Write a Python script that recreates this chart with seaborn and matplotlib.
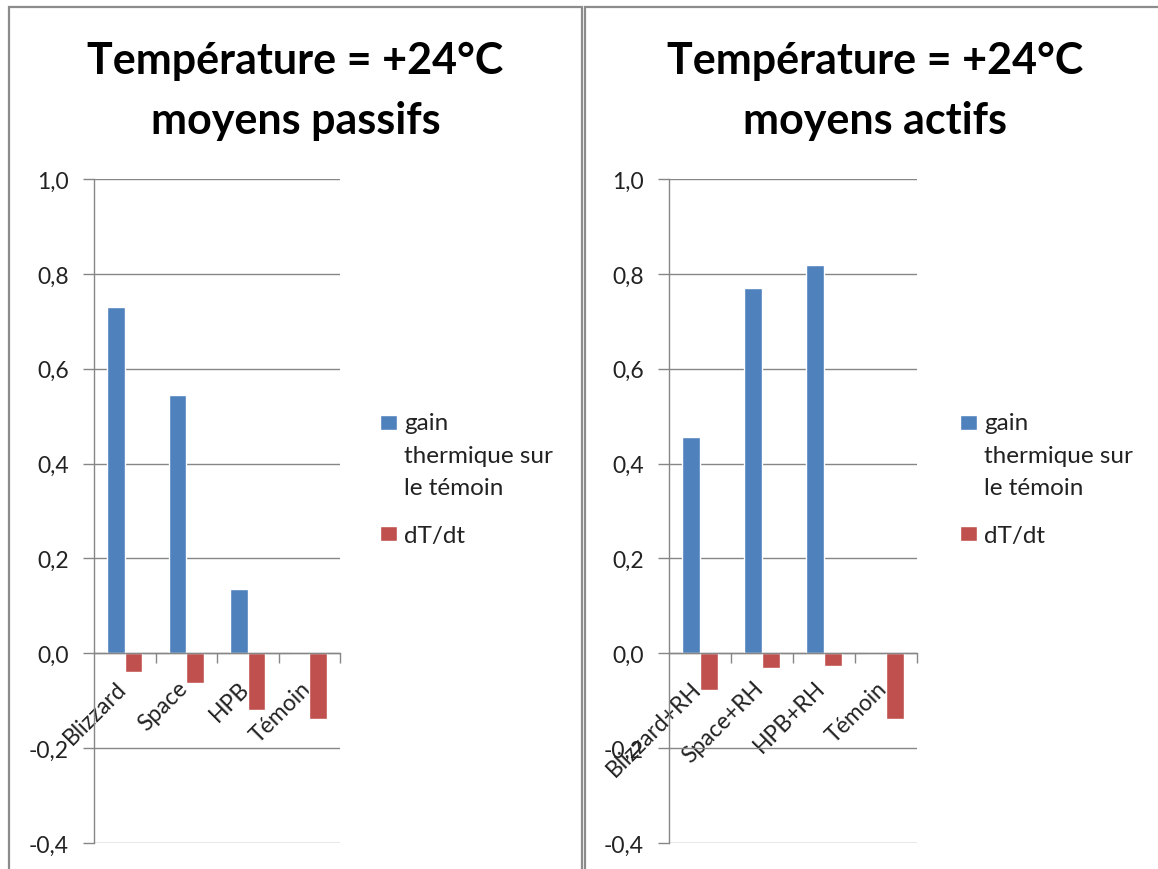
import numpy as np
import pandas as pd
import seaborn as sns
import matplotlib.pyplot as plt
import matplotlib.transforms as mtransforms
from matplotlib.patches import Rectangle, Patch
from matplotlib.legend_handler import HandlerPatch

# Passive means (left panel)
passive_categories = ["Blizzard", "Space", "HPB", "Témoin"]
passive_gain = [0.730, 0.544, 0.135, 0.0]
passive_dtdt = [-0.039, -0.063, -0.120, -0.139]

# Active means (right panel)
active_categories = ["Blizzard+RH", "Space+RH", "HPB+RH", "Témoin"]
active_gain = [0.455, 0.771, 0.819, 0.0]
active_dtdt = [-0.077, -0.032, -0.026, -0.139]

series_names = ["gain\nthermique sur\nle témoin", "dT/dt"]
panel_titles = ["Température = +24°C\nmoyens passifs",
                "Température = +24°C\nmoyens actifs"]
y_ticks = [-0.4, -0.2, 0.0, 0.2, 0.4, 0.6, 0.8, 1.0]
y_tick_labels = [f"{v:.1f}".replace(".", ",") for v in y_ticks]

colors = ["#4F81BD", "#C0504D"]
grid_color = "#868686"
frame_color = "#8c8c8c"

sns.set_style("white")
plt.rcParams["font.family"] = ["Lato", "DejaVu Sans"]

W, H = 1158, 870
DPI = 100
fig = plt.figure(figsize=(W / DPI, H / DPI), dpi=DPI)

LEGEND_FS = 17.5
LEGEND_LINESPACING = 1.68
LINE_STEP_PT = 32.5 * 72 / DPI  # distance between wrapped legend lines


def top_aligned_square(legend, orig_handle, xdescent, ydescent, width, height, fontsize):
    """Legend key placed level with the first line of a wrapped label."""
    n_lines = orig_handle.get_label().count("\n") + 1
    shift = (n_lines - 1) / 2 * LINE_STEP_PT
    return Rectangle((-xdescent, -ydescent + shift), width, height)


# Panel frames
fig.add_artist(Rectangle((9 / W, -0.1), (582 - 9) / W, 1.1 - 8 / H,
                         transform=fig.transFigure, fill=False,
                         ec=frame_color, lw=1.6))
fig.add_artist(Rectangle((585 / W, -0.1), 1.2, 1.1 - 8 / H,
                         transform=fig.transFigure, fill=False,
                         ec=frame_color, lw=1.6))

# Axes placement (pixels): left edge, right edge, title centre, legend left
panels = [
    (94, 340, 295.5, passive_categories, passive_gain, passive_dtdt, panel_titles[0], 380),
    (669, 917, 875.0, active_categories, active_gain, active_dtdt, panel_titles[1], 960),
]
top_px, bot_px = 180, 844
label_shift = mtransforms.ScaledTranslation(4 / 72, 0, fig.dpi_scale_trans)

for x0, x1, cx, cats, gain, dtdt, title, leg_x in panels:
    ax = fig.add_axes([x0 / W, 1 - bot_px / H, (x1 - x0) / W, (bot_px - top_px) / H])
    df = pd.DataFrame({
        "categorie": list(cats) * 2,
        "valeur": list(gain) + list(dtdt),
        "serie": [series_names[0]] * len(cats) + [series_names[1]] * len(cats),
    })
    sns.barplot(data=df, x="categorie", y="valeur", hue="serie",
                hue_order=series_names, palette=colors, width=0.571,
                saturation=1, errorbar=None, legend=False, ax=ax)

    ax.set_xlim(-0.5, len(cats) - 0.5)
    ax.set_ylim(-0.4, 1.0)
    ax.set_xlabel("")
    ax.set_ylabel("")

    for side in ("top", "right"):
        ax.spines[side].set_visible(False)
    ax.spines["bottom"].set_position(("data", 0))
    for side in ("left", "bottom"):
        ax.spines[side].set_color(grid_color)
        ax.spines[side].set_linewidth(1)

    ax.set_axisbelow(True)
    ax.yaxis.grid(True, color=grid_color, lw=1)
    ax.set_yticks(y_ticks)
    ax.set_yticklabels(y_tick_labels)
    ax.tick_params(axis="y", length=8, width=1, color=grid_color,
                   pad=10, labelsize=16.5, labelcolor="#222222", left=True)

    ax.set_xticks(range(len(cats)))
    ax.set_xticklabels(cats, rotation=45, ha="right", va="top")
    ax.set_xticks(np.arange(len(cats)) + 0.5, minor=True)
    ax.tick_params(axis="x", which="major", length=0, pad=17,
                   labelsize=16.5, labelcolor="#222222")
    ax.tick_params(axis="x", which="minor", length=7, width=1,
                   color=grid_color, direction="out", bottom=True)
    for lab in ax.get_xticklabels():
        lab.set_transform(lab.get_transform() + label_shift)

    handles = [Patch(facecolor=c, label=n) for c, n in zip(colors, series_names)]
    leg = ax.legend(handles=handles, loc="center left",
                    bbox_to_anchor=((leg_x - x0) / (x1 - x0), (bot_px - 480) / (bot_px - top_px)),
                    frameon=False, fontsize=LEGEND_FS, handlelength=0.7, handleheight=0.6,
                    handletextpad=0.3, labelspacing=1.1, borderpad=0, borderaxespad=0,
                    handler_map={Patch: HandlerPatch(patch_func=top_aligned_square)})
    for t in leg.get_texts():
        t.set_linespacing(LEGEND_LINESPACING)
        t.set_color("#222222")

    fig.text(cx / W, 1 - 91 / H, title, ha="center", va="center",
             fontsize=31, fontweight="bold", linespacing=1.6, color="black")

fig.savefig("out.png", dpi=DPI)
